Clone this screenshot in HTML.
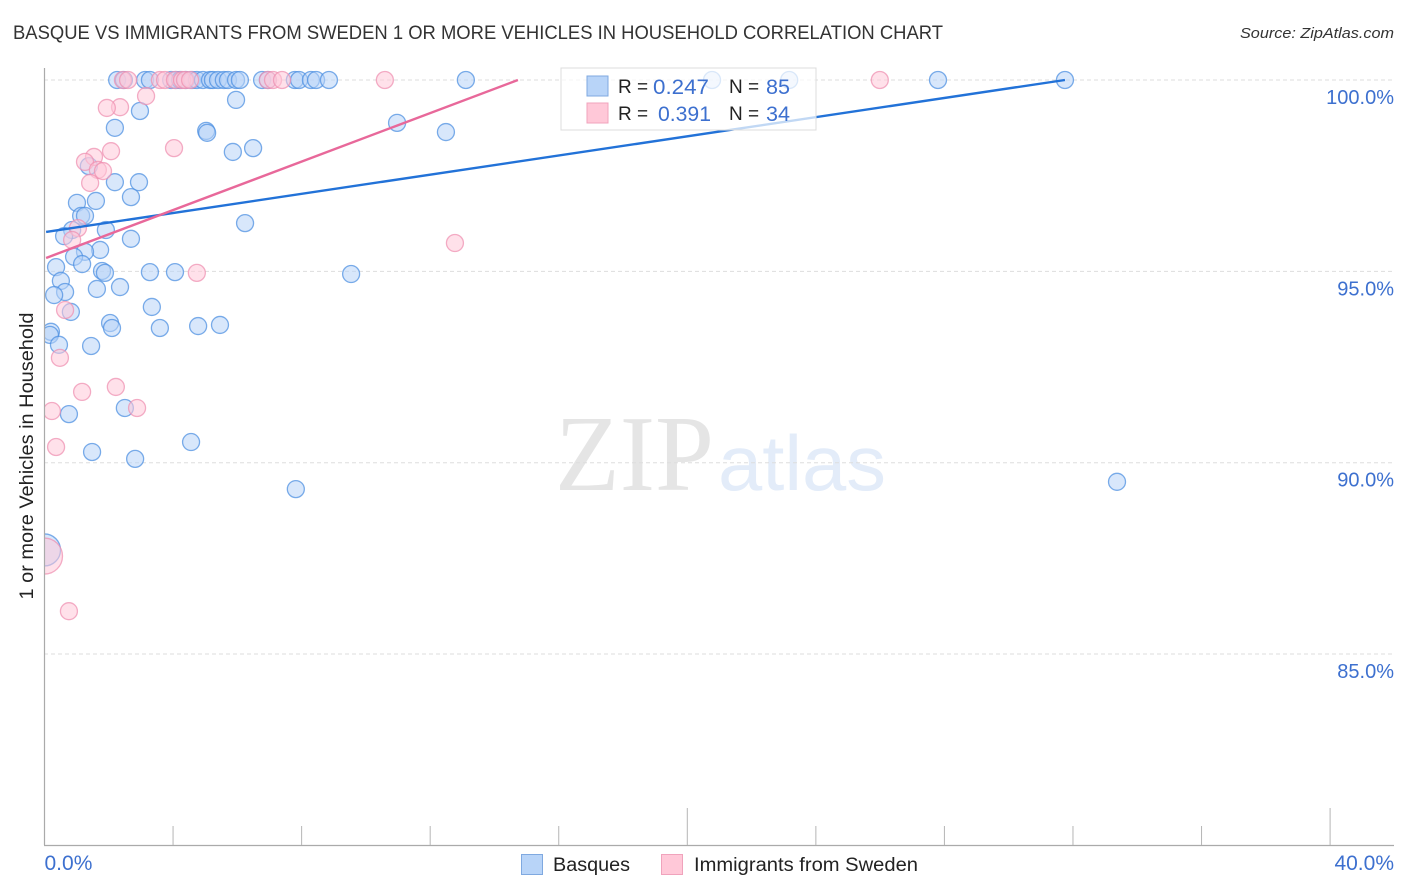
<!DOCTYPE html>
<html lang="en">
<head>
<meta charset="utf-8">
<title>Basque vs Immigrants from Sweden correlation chart</title>
<style>
html,body{margin:0;padding:0;background:#fff;width:1406px;height:892px;overflow:hidden}
svg{display:block;font-family:"Liberation Sans",sans-serif}
</style>
</head>
<body>
<svg id="chart" xmlns="http://www.w3.org/2000/svg" width="1406" height="892" viewBox="0 0 1406 892">
  <defs>
    <clipPath id="plot-clip"><rect x="44.5" y="60" width="1350" height="785"/></clipPath>
  </defs>
  <rect x="0" y="0" width="1406" height="892" fill="#ffffff"/>
  <text x="13" y="39" font-size="19" fill="#333" textLength="930" lengthAdjust="spacingAndGlyphs">BASQUE VS IMMIGRANTS FROM SWEDEN 1 OR MORE VEHICLES IN HOUSEHOLD CORRELATION CHART</text>
  <text x="1394" y="38" font-size="15" font-style="italic" fill="#333" text-anchor="end" textLength="154" lengthAdjust="spacingAndGlyphs">Source: ZipAtlas.com</text>

  <g>
    <text x="555" y="490" font-family="'Liberation Serif',serif" font-size="108" fill="#e5e5e5" textLength="159" lengthAdjust="spacingAndGlyphs">ZIP</text>
    <text x="718" y="490" font-size="78" fill="#e3ecf9" textLength="168" lengthAdjust="spacingAndGlyphs">atlas</text>
  </g>

  <g id="grid"></g>
  <g id="points" clip-path="url(#plot-clip)"></g>
  <g id="trends" clip-path="url(#plot-clip)"></g>

  <line x1="44.5" y1="68" x2="44.5" y2="845" stroke="#aaa" stroke-width="1.2"/>
  <line x1="44" y1="845.5" x2="1394" y2="845.5" stroke="#aaa" stroke-width="1.2"/>
  <g id="xticks"></g>
  <g id="ylabels"></g>
  <g id="xlabels"></g>

  <text transform="translate(33,456) rotate(-90)" font-size="19.5" fill="#222" text-anchor="middle" textLength="287" lengthAdjust="spacingAndGlyphs">1 or more Vehicles in Household</text>

  <g>
    <rect x="561" y="68" width="255" height="62" fill="#ffffff" fill-opacity="0.72" stroke="#dcdcdc" stroke-width="1"/>
    <rect x="587" y="76" width="21" height="20" fill="#b8d4f8" stroke="#7fa9e0" stroke-width="1"/>
    <rect x="587" y="103" width="21" height="20" fill="#ffc8d8" stroke="#f0a3bc" stroke-width="1"/>
    <text x="618" y="93" font-size="19" fill="#222">R =</text>
    <text x="653" y="94" font-size="21" fill="#3d70cf" textLength="56" lengthAdjust="spacingAndGlyphs">0.247</text>
    <text x="729" y="93" font-size="19" fill="#222">N =</text>
    <text x="766" y="94" font-size="21" fill="#3d70cf" textLength="24" lengthAdjust="spacingAndGlyphs">85</text>
    <text x="618" y="120" font-size="19" fill="#222">R =</text>
    <text x="658" y="121" font-size="21" fill="#3d70cf" textLength="53" lengthAdjust="spacingAndGlyphs">0.391</text>
    <text x="729" y="120" font-size="19" fill="#222">N =</text>
    <text x="766" y="121" font-size="21" fill="#3d70cf" textLength="24" lengthAdjust="spacingAndGlyphs">34</text>
  </g>

  <g>
    <g>
      <rect x="521.5" y="854.5" width="21" height="20" fill="#b8d4f8" stroke="#7fa9e0" stroke-width="1"/>
      <text x="553" y="871" font-size="19" fill="#222" textLength="77" lengthAdjust="spacingAndGlyphs">Basques</text>
    </g>
    <g>
      <rect x="661.5" y="854.5" width="21" height="20" fill="#ffc8d8" stroke="#f0a3bc" stroke-width="1"/>
      <text x="694" y="871" font-size="19" fill="#222" textLength="224" lengthAdjust="spacingAndGlyphs">Immigrants from Sweden</text>
    </g>
  </g>
</svg>
<script>
const yTickValues = [100, 95, 90, 85];
const yTickLabels = ["100.0%", "95.0%", "90.0%", "85.0%"];
const xTickValues = [4, 8, 12, 16, 20, 24, 28, 32, 36, 40];
const xMajorTicks = [20, 40];
const xEndValues = [0, 40];
const xEndLabels = ["0.0%", "40.0%"];

const basqueX = [2.26,2.47,3.13,3.28,3.94,4.09,4.22,4.40,4.59,4.74,4.93,5.15,5.24,5.40,5.58,5.71,5.96,6.08,6.77,6.95,7.79,7.92,8.29,8.45,8.85,13.11,20.77,23.17,27.80,31.75,
  5.96,2.97,2.19,5.03,5.06,10.97,12.49,5.86,6.49,1.38,2.19,2.94,2.69,1.60,1.01,1.14,1.26,0.86,0.61,1.91,2.69,6.24,1.73,1.26,0.92,1.17,0.36,1.79,1.88,3.28,4.06,9.54,0.51,0.64,0.30,1.63,2.35,3.34,0.82,2.04,2.10,3.59,4.78,5.46,0.20,0.17,0.45,1.45,0.76,2.50,1.48,2.82,4.56,7.82,33.37];
const basqueY = [100,100,100,100,100,100,100,100,100,100,100,100,100,100,100,100,100,100,100,100,100,100,100,100,100,100,100,100,100,100,
  99.48,99.19,98.75,98.67,98.62,98.88,98.64,98.12,98.22,97.75,97.33,97.33,96.94,96.84,96.79,96.45,96.45,96.08,95.92,96.08,95.85,96.26,95.56,95.51,95.38,95.19,95.11,95.01,94.96,94.98,94.98,94.93,94.75,94.46,94.38,94.54,94.59,94.07,93.94,93.65,93.52,93.52,93.57,93.60,93.42,93.34,93.08,93.05,91.27,91.43,90.28,90.10,90.54,89.31,89.50];
const basqueLargeX = [0];
const basqueLargeY = [87.72];

const swedenX = [2.44,2.60,3.59,3.75,4.06,4.28,4.37,4.53,6.95,7.11,7.39,10.59,25.99,
  3.16,2.35,1.94,4.03,2.07,1.54,1.26,1.66,1.82,1.42,1.04,0.86,12.77,4.74,0.64,0.48,1.17,2.22,2.88,0.23,0.36,0.76];
const swedenY = [100,100,100,100,100,100,100,100,100,100,100,100,100,
  99.58,99.29,99.27,98.22,98.14,97.99,97.86,97.65,97.62,97.31,96.13,95.82,95.74,94.96,93.99,92.74,91.85,91.98,91.43,91.35,90.41,86.12];
const swedenLargeX = [0];
const swedenLargeY = [87.56];

const basqueTrendX = [0.05, 31.75];
const basqueTrendY = [96.03, 100];
const swedenTrendX = [0.05, 14.73];
const swedenTrendY = [95.35, 100];

const NS = "http://www.w3.org/2000/svg";
function xScale(v) { return 44.5 + v * 32.14; }
function yScale(v) { return 80 + (100 - v) * 38.27; }
function make(tag, attrs) {
  const el = document.createElementNS(NS, tag);
  for (const k in attrs) el.setAttribute(k, attrs[k]);
  return el;
}

const grid = document.getElementById("grid");
const ylabels = document.getElementById("ylabels");
yTickValues.forEach(function (v, i) {
  const g = make("line", { x1: 44, x2: 1394, y1: yScale(v), y2: yScale(v), stroke: "#dddddd", "stroke-width": 1, "stroke-dasharray": "4 3" });
  
  
  grid.appendChild(g);
  const t = make("text", { x: 1394, y: yScale(v) + 24, "font-size": 20, fill: "#3d70cf", "text-anchor": "end" });
  t.textContent = yTickLabels[i];
  
  
  ylabels.appendChild(t);
});

const xticks = document.getElementById("xticks");
xTickValues.forEach(function (v) {
  const major = xMajorTicks.indexOf(v) >= 0;
  const l = make("line", { x1: xScale(v), x2: xScale(v), y1: major ? 808 : 826, y2: 845, stroke: "#b5b5b5", "stroke-width": 1 });
  
  
  xticks.appendChild(l);
});

const xlabels = document.getElementById("xlabels");
xEndValues.forEach(function (v, i) {
  const t = make("text", { x: i === 0 ? xScale(v) : 1394, y: 870, "font-size": 21, fill: "#3d70cf", "text-anchor": i === 0 ? "start" : "end" });
  t.textContent = xEndLabels[i];
  
  
  xlabels.appendChild(t);
});

const points = document.getElementById("points");
function drawSeries(xs, ys, r, fill, stroke, name) {
  xs.forEach(function (x, i) {
    const c = make("circle", { cx: xScale(x), cy: yScale(ys[i]), r: r, fill: fill, "fill-opacity": 0.55, stroke: stroke, "stroke-opacity": 0.72, "stroke-width": 1.3 });
    
    
    points.appendChild(c);
  });
}
drawSeries(basqueLargeX, basqueLargeY, 16, "#b8d4f8", "#4a8ee0", "basque-point-large");
drawSeries(swedenLargeX, swedenLargeY, 18, "#ffc8d8", "#ee8fb0", "sweden-point-large");
drawSeries(basqueX, basqueY, 8.5, "#b8d4f8", "#4a8ee0", "basque-point");
drawSeries(swedenX, swedenY, 8.5, "#ffc8d8", "#ee8fb0", "sweden-point");

const trends = document.getElementById("trends");
const blueLine = make("line", { x1: xScale(basqueTrendX[0]), y1: yScale(basqueTrendY[0]), x2: xScale(basqueTrendX[1]), y2: yScale(basqueTrendY[1]), stroke: "#2272d8", "stroke-width": 2.4 });


trends.appendChild(blueLine);
const pinkLine = make("line", { x1: xScale(swedenTrendX[0]), y1: yScale(swedenTrendY[0]), x2: xScale(swedenTrendX[1]), y2: yScale(swedenTrendY[1]), stroke: "#e8689a", "stroke-width": 2.4 });


trends.appendChild(pinkLine);
</script>
</body>
</html>
